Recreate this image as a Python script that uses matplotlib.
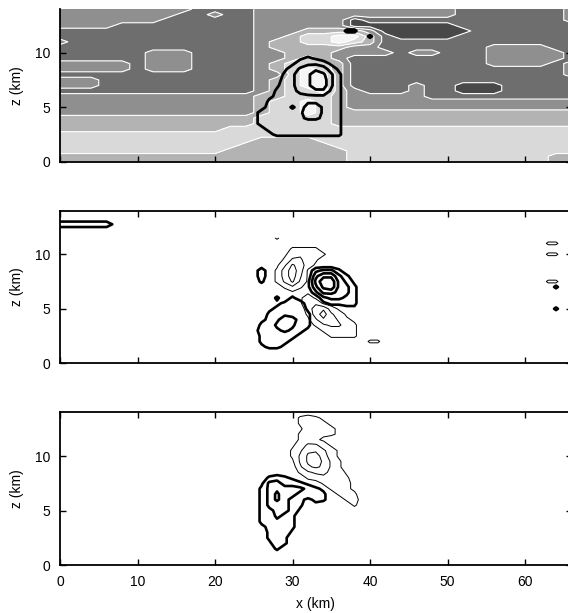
import numpy as np
import matplotlib
matplotlib.use("Agg")
import matplotlib.pyplot as plt

plt.rcParams["font.family"] = ["Liberation Sans", "DejaVu Sans"]

# ---- top panel: grey shading classes (0 = darkest ... 5 = lightest)
# x = 0..66 km every 2 km, rows from z = 14 km down to 0 km every 0.5 km
shade_x = np.arange(0, 67, 2)
shade_z = np.arange(14, -0.01, -0.5)
shade_rows = [
    "2222222221111222222222222211111112",
    "2222222211211222222222222211111112",
    "2222222111111222222011111111111112",
    "2222111111111222222000000011111111",
    "1111111111111222333320000001111111",
    "1111111111111223445531000011111111",
    "2111111111111233445431111111111111",
    "1111111111111233333221111111222211",
    "1111112221111223332222122111222221",
    "1111112221111223432111111111222221",
    "2222212221111234443111111111222212",
    "2222212221111234543111111111111112",
    "1111111111111224553111111111111112",
    "2221111111111234553111111111111111",
    "2221111111111234553111121100011111",
    "1111111111111234453211121100011111",
    "2222222222222334443222221111111111",
    "2222222222222344543222222222222222",
    "2222222222222344543222222222222222",
    "2222222222222344543333333333333333",
    "3333333333333444443333333333333333",
    "3333333333333444443333333333333333",
    "3333333333344444444444444444444444",
    "4444444444444444444444444444444444",
    "4444444444444333344444444444444444",
    "4444444444443333334444444444444444",
    "4444444444433333333444444444444444",
    "3333333333333333333444444444444433",
    "3333333333333333333444444444444433",
]
shade_colors = ["#484848", "#6e6e6e", "#8f8f8f", "#b3b3b3", "#d9d9d9", "#f5f5f5"]

# top panel: black contours of the storm (x 24..41 km, z 10 -> 1.5 km)
storm_x = np.arange(24, 42, 1)
storm_z = np.arange(10, 1.49, -0.5)
storm_rows = [
    "000000000000000000",
    "000000012100000000",
    "000000134431000000",
    "000001356763100000",
    "000002467985200000",
    "000012467995200000",
    "000013467995200000",
    "000023456774200000",
    "000123344443200000",
    "000223344433200000",
    "001233536643200000",
    "012233346643200000",
    "012233345543200000",
    "012223333333200000",
    "001233333333200000",
    "000122222222200000",
    "000000000000000000",
    "000000000000000000",
]
# small black specks in the anvil (x 35..42 km, z 12.5 -> 11 km)
anvil_x = np.arange(35, 43, 1)
anvil_z = np.arange(12.5, 10.99, -0.5)
anvil_rows = ["00000000", "00220000", "00000200", "00000000"]

# ---- middle panel (x 24..42 km, z 11.5 -> 0.5 km)
mid_x = np.arange(24, 43, 1)
mid_z = np.arange(11.5, 0.49, -0.5)
mid_up_rows = [
    "0000000000000000000",
    "0000000000000000000",
    "0000000000000000000",
    "0000000000000000000",
    "0000000000000000000",
    "0000000000000000000",
    "0030000003442000000",
    "0030000005774200000",
    "0020000016995310000",
    "0000000015895420000",
    "0000000003665420000",
    "0000202000344320000",
    "0000123300122220000",
    "0001233310000110000",
    "0002333320000000000",
    "0012354320000000000",
    "0022454220000000000",
    "0122343210000000000",
    "0022222100000000000",
    "0022221000000000000",
    "0012210000000000000",
    "0000000000000000000",
    "0000000000000000000",
]
mid_down_rows = [
    "0000200000000000000",
    "0000000000000000000",
    "0000002222000000000",
    "0000013433200000000",
    "0000025532000000000",
    "0000148631000000000",
    "0000269610000000000",
    "0000269510000000000",
    "0000258410000000000",
    "0000024200000000000",
    "0000001010000000000",
    "0000000131000000000",
    "0000000144100000000",
    "0000000036731000000",
    "0000000026953100000",
    "0000000014764210000",
    "0000000002455320000",
    "0000000000233320000",
    "0000000000022220000",
    "0000000000000000220",
    "0000000000000000000",
    "0000000000000000000",
    "0000000000000000000",
]
# thin lens at the left edge (x 0..8 km, z 13.75 -> 11.75 km)
edge_x = np.arange(0, 9, 1)
edge_z = np.arange(13.75, 11.74, -0.5)
edge_up_rows = ["000000000", "000000000", "333333310", "000000000", "000000000"]
# specks at the right edge (x 61..66 km, z 11.5 -> 4.5 km)
right_x = np.arange(61, 67, 1)
right_z = np.arange(11.5, 4.49, -0.5)
right_up_rows = ["000000"] * 9 + ["000200", "000000", "000000", "000000", "000200", "000000"]
right_down_rows = ["000000", "002200", "000000", "002200", "000000", "000000", "000000",
                   "000000", "002200", "000000", "000000", "000000", "000000", "000000",
                   "000000"]

# ---- bottom panel (x 24..40 km, z 14 -> 1 km)
bot_x = np.arange(24, 41, 1)
bot_z = np.arange(14, 0.99, -0.5)
bot_up_rows = ["00000000000000000"] * 12 + [
    "00023210000000000",
    "00144332100000000",
    "00245444321000000",
    "00246443322000000",
    "00246432122000000",
    "00244432010000000",
    "00234431000000000",
    "00224320000000000",
    "00223320000000000",
    "00123320000000000",
    "00023310000000000",
    "00023200000000000",
    "00013200000000000",
    "00002000000000000",
    "00000000000000000",
]
bot_down_rows = [
    "00000000000000000",
    "00000002321000000",
    "00000002332100000",
    "00000001333210000",
    "00000002332210000",
    "00000002321000000",
    "00000013553100000",
    "00000024775310000",
    "00000025896310000",
    "00000015897420000",
    "00000004787420000",
    "00000002455431000",
    "00000000234332000",
    "00000000002332100",
    "00000000000232100",
    "00000000000023200",
    "00000000000002300",
    "00000000000000200",
] + ["00000000000000000"] * 9

thick_levels = [1.5, 3.5, 5.5, 7.5]
thin_levels = [1.5, 4.5, 7.5]


def grid(rows):
    return np.array([[int(c) for c in r] for r in rows], dtype=float)


def draw(ax, x, z, rows, levels, lw):
    ax.contour(x, z[::-1], grid(rows)[::-1], levels=levels, colors="black",
               linewidths=lw, linestyles="solid")


fig = plt.figure(figsize=(5.68, 6.13), dpi=100)
left, width, height = 60 / 568, 66 * 7.75 / 568, 0.2489
ax_top = fig.add_axes([left, 0.7362, width, height])
ax_mid = fig.add_axes([left, 0.4074, width, height])
ax_bot = fig.add_axes([left, 0.0783, width, height])

# top panel
shade = grid(shade_rows)[::-1]
ax_top.contourf(shade_x, shade_z[::-1], shade, levels=np.arange(-0.5, 6, 1),
                colors=shade_colors)
ax_top.contour(shade_x, shade_z[::-1], shade, levels=np.arange(0.5, 5, 1),
               colors="white", linewidths=0.8)
draw(ax_top, storm_x, storm_z, storm_rows, thin_levels, 2.0)
draw(ax_top, anvil_x, anvil_z, anvil_rows, thin_levels, 2.0)

# middle panel
draw(ax_mid, mid_x, mid_z, mid_up_rows, thick_levels, 1.9)
draw(ax_mid, mid_x, mid_z, mid_down_rows, thin_levels, 0.7)
draw(ax_mid, edge_x, edge_z, edge_up_rows, thick_levels, 1.9)
draw(ax_mid, right_x, right_z, right_up_rows, thick_levels, 1.9)
draw(ax_mid, right_x, right_z, right_down_rows, thin_levels, 0.7)

# bottom panel
draw(ax_bot, bot_x, bot_z, bot_up_rows, thick_levels, 1.9)
draw(ax_bot, bot_x, bot_z, bot_down_rows, thin_levels, 0.7)

for ax in (ax_top, ax_mid, ax_bot):
    ax.set_xlim(0, 66)
    ax.set_ylim(0, 14)
    ax.set_xticks(range(0, 61, 10))
    ax.set_yticks([0, 5, 10])
    ax.tick_params(direction="in", top=True, right=True, length=4, width=1,
                   labelsize=10, pad=7)
    for s in ax.spines.values():
        s.set_linewidth(1.3)
    ax.set_ylabel("z (km)", fontsize=10, labelpad=8)

ax_top.spines["top"].set_visible(False)
ax_top.tick_params(top=False)
ax_top.tick_params(labelbottom=False)
ax_mid.tick_params(labelbottom=False)
ax_bot.set_xlabel("x (km)", fontsize=10, labelpad=6)

fig.savefig("out.png", dpi=100)
